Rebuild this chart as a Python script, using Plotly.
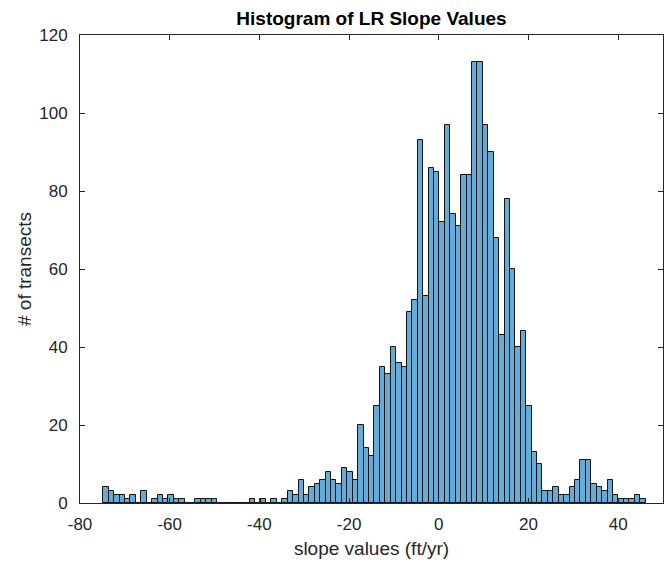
import plotly.graph_objects as go

# Histogram counts per bin (100 equal-width bins)
counts = [4, 3, 2, 2, 1, 2, 0, 3, 0, 1,
          2, 1, 2, 1, 1, 0, 0, 1, 1, 1,
          1, 0, 0, 0, 0, 0, 0, 1, 0, 1,
          0, 1, 0, 1, 3, 2, 6, 2, 4, 5,
          6, 8, 6, 5, 9, 8, 6, 20, 14, 12,
          25, 35, 33, 40, 36, 35, 49, 52, 93, 53,
          86, 85, 72, 97, 74, 71, 84, 84, 113, 113,
          97, 90, 68, 43, 78, 60, 40, 44, 25, 13,
          10, 3, 3, 4, 2, 2, 4, 6, 11, 11,
          5, 4, 3, 6, 2, 1, 1, 1, 2, 1]

first_edge = -74.8      # left edge of the first bin (ft/yr)
bin_width = 1.209       # bin width (ft/yr)

x_ticks = [-80, -60, -40, -20, 0, 20, 40]
x_tick_labels = ["-80", "-60", "-40", "-20", "0", "20", "40"]
y_ticks = [0, 20, 40, 60, 80, 100, 120]
y_tick_labels = ["0", "20", "40", "60", "80", "100", "120"]

axis_color = "#262626"
font_family = "Liberation Sans, Arial, Helvetica, sans-serif"

fig = go.Figure(
    go.Bar(
        y=counts,
        x0=first_edge + bin_width / 2,
        dx=bin_width,
        width=bin_width,
        marker=dict(color="rgb(102,170,215)",
                    line=dict(color="rgb(20,20,20)", width=1)),
        showlegend=False,
    )
)

axis_common = dict(
    showline=True, linecolor=axis_color, linewidth=1, mirror="ticks",
    ticks="inside", ticklen=5, tickwidth=1, tickcolor=axis_color,
    showgrid=False, zeroline=False,
    tickfont=dict(family=font_family, size=17, color=axis_color),
)

fig.update_layout(
    width=666, height=565,
    margin=dict(l=80, r=3, t=35, b=62),
    paper_bgcolor="white", plot_bgcolor="white",
    bargap=0,
    title=dict(text="Histogram of LR Slope Values",
               font=dict(family=font_family, size=19, color="black", weight="bold"),
               x=0.5, xref="paper", xanchor="center",
               y=1 - 18 / 565, yref="container", yanchor="middle"),
    xaxis=dict(range=[-80, 50], tickvals=x_ticks, ticktext=x_tick_labels,
               ticklabelstandoff=6,
               title=dict(text="slope values (ft/yr)", standoff=8,
                          font=dict(family=font_family, size=19, color=axis_color)),
               **axis_common),
    yaxis=dict(range=[0, 120], tickvals=y_ticks, ticktext=y_tick_labels,
               ticklabelstandoff=8,
               title=dict(text="# of transects", standoff=2,
                          font=dict(family=font_family, size=19, color=axis_color)),
               **axis_common),
)

fig.write_html("out.html")
